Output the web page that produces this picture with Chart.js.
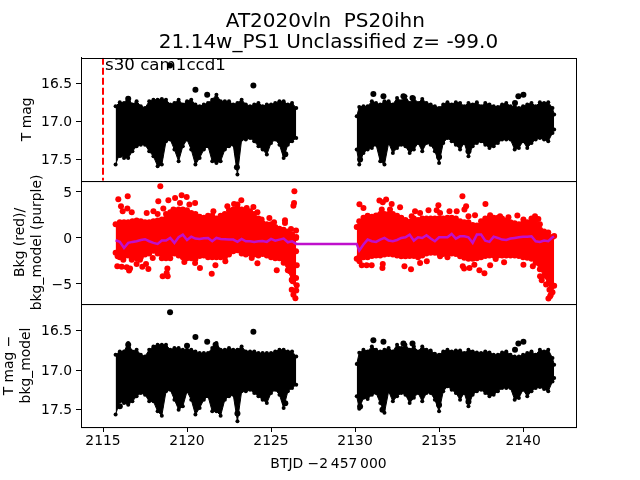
<!DOCTYPE html>
<html>
<head>
<meta charset="utf-8">
<style>
  html, body { margin: 0; padding: 0; background: #fff; }
  canvas { display: block; }
</style>
<script src="https://cdn.jsdelivr.net/npm/chart.js@4/dist/chart.umd.min.js"></script>
</head>
<body>
<canvas id="lightcurve" width="640" height="480"></canvas>
<script>
// Tick labels
const xTicks = [2115, 2120, 2125, 2130, 2135, 2140];
const magTicks = [16.5, 17.0, 17.5];
const bkgTicks = [5, 0, -5];

// Sampling of the two observing stretches (BTJD)
const timesA = [2115.75,2116,2116.25,2116.5,2116.75,2117,2117.25,2117.5,2117.75,2118,2118.25,2118.5,2118.75,2119,2119.25,2119.5,2119.75,2120,2120.25,2120.5,2120.75,2121,2121.25,2121.5,2121.75,2122,2122.25,2122.5,2122.75,2123,2123.25,2123.5,2123.75,2124,2124.25,2124.5,2124.75,2125,2125.25,2125.5,2125.75,2126,2126.25,2126.5];
const timesB = [2130.1,2130.25,2130.5,2130.75,2131,2131.25,2131.5,2131.75,2132,2132.25,2132.5,2132.75,2133,2133.25,2133.5,2133.75,2134,2134.25,2134.5,2134.75,2135,2135.25,2135.5,2135.75,2136,2136.25,2136.5,2136.75,2137,2137.25,2137.5,2137.75,2138,2138.25,2138.5,2138.75,2139,2139.25,2139.5,2139.75,2140,2140.25,2140.5,2140.75,2141,2141.25,2141.5,2141.75,2141.85];

// T mag, upper and lower edge of the dense band
const magTopA = [16.798,16.746,16.754,16.689,16.776,16.732,16.798,16.82,16.732,16.711,16.711,16.702,16.711,16.776,16.754,16.711,16.776,16.732,16.711,16.776,16.798,16.776,16.754,16.711,16.645,16.732,16.732,16.732,16.776,16.754,16.711,16.776,16.798,16.776,16.754,16.798,16.776,16.776,16.754,16.732,16.732,16.776,16.754,16.82];
const magLowA = [17.566,17.412,17.478,17.478,17.39,17.325,17.303,17.303,17.39,17.456,17.588,17.566,17.259,17.237,17.368,17.522,17.325,17.237,17.368,17.566,17.478,17.368,17.325,17.522,17.544,17.522,17.368,17.325,17.303,17.697,17.237,17.237,17.215,17.259,17.325,17.368,17.434,17.281,17.237,17.303,17.478,17.303,17.259,17.215];
const magTopB = [16.93,16.807,16.798,16.798,16.732,16.754,16.776,16.732,16.732,16.776,16.689,16.732,16.667,16.754,16.689,16.754,16.702,16.754,16.776,16.798,16.82,16.776,16.746,16.776,16.746,16.754,16.798,16.754,16.776,16.746,16.798,16.754,16.776,16.798,16.807,16.776,16.754,16.798,16.798,16.82,16.798,16.776,16.754,16.798,16.746,16.754,16.746,16.82,16.908];
const magLowB = [17.368,17.566,17.412,17.368,17.346,17.303,17.522,17.566,17.281,17.412,17.346,17.303,17.325,17.412,17.368,17.281,17.39,17.281,17.303,17.39,17.544,17.281,17.215,17.259,17.303,17.368,17.281,17.456,17.325,17.281,17.259,17.303,17.346,17.325,17.281,17.237,17.237,17.237,17.368,17.346,17.259,17.346,17.281,17.237,17.215,17.237,17.259,17.149,17.105];
const magDotsX = [2118.99,2120.5,2121.2,2123.95,2116.5,2131.09,2131.69,2132.88,2133.42,2139.72,2140.02,2139.52,2122.97,2122.97,2116.0,2118.4,2125.85,2130.3,2131.63,2135.0,2136.75];
const magDotsY = [16.26,16.58,16.645,16.526,16.7,16.636,16.667,16.667,16.69,16.667,16.645,16.754,17.41,17.6,17.44,17.47,17.43,17.5,17.48,17.465,17.39];

// Background flux: band edges, scattered points and the purple model
const bkgTopA = [1.5,1.7,1.7,1.7,1.8,1.9,1.8,1.7,1.7,1.8,1.9,2.0,2.6,2.8,3.0,3.1,3.1,3.0,2.7,2.6,2.3,2.2,2.4,2.4,2.1,2.4,2.6,3.0,3.1,3.25,3.1,3.0,2.9,2.6,2.1,1.6,1.5,1.5,1.2,1.0,0.9,0.7,0.4,0.1];
const bkgLowA = [-1.6,-2.1,-2.0,-1.9,-1.9,-2.2,-2.1,-1.8,-1.7,-1.4,-1.7,-2.2,-2.2,-2.2,-1.7,-1.9,-2.1,-2.2,-2.2,-2.3,-1.95,-1.9,-2.1,-2.1,-2.1,-2.1,-2.1,-1.8,-1.45,-1.35,-1.7,-1.8,-1.7,-1.8,-1.9,-1.75,-1.9,-2.1,-2.2,-2.2,-2.7,-3.5,-4.6,-5.7];
const bkgTopB = [1.2,1.8,2.2,2.4,2.3,2.45,2.6,2.6,2.6,2.6,2.4,2.2,1.95,1.75,2.1,1.95,2.1,2.1,2.1,2.1,2.1,2.1,2.2,2.2,2.1,1.8,1.7,1.7,1.4,1.35,1.8,2.1,2.2,2.2,2.2,2.1,1.9,1.7,1.6,1.5,1.6,1.7,2.1,1.95,1.5,0.7,0.6,0.1,0.2];
const bkgLowB = [-2.25,-2.1,-2.1,-2.1,-1.95,-1.9,-1.9,-1.8,-1.75,-1.8,-1.9,-2.0,-2.0,-1.95,-1.95,-2.1,-1.9,-1.7,-1.6,-1.6,-1.7,-1.75,-1.7,-1.7,-1.75,-2.0,-2.15,-2.25,-2.25,-2.2,-2.1,-1.95,-1.9,-1.9,-1.9,-1.9,-1.9,-1.9,-1.9,-1.95,-2.1,-2.15,-2.25,-2.7,-3.4,-4.1,-4.95,-5.9,-5.2];
const bkgDotsX = [2115.91,2116.47,2118.41,2116.07,2116.17,2116.45,2116.71,2118.29,2118.89,2119.29,2119.68,2119.98,2119.58,2120.14,2120.48,2117.6,2118,2118.25,2118.59,2119.19,2121.57,2122.4,2122.8,2123,2123.23,2123.55,2123.95,2124.19,2124.44,2124.9,2125.18,2125.83,2125.83,2126.19,2126.49,2126.37,2126.33,2126.39,2126.49,2126.49,2126.53,2126.49,2126.29,2126.53,2126.23,2126.33,2126.45,2115.85,2116.11,2116.41,2116.61,2116.55,2115.87,2116.21,2117.2,2117,2117.34,2117.56,2117.7,2117.96,2118.83,2118.79,2118.55,2118.85,2119.84,2120.48,2120.77,2121.47,2121.69,2122.28,2123.85,2124.19,2125.34,2126.13,2126.23,2116.9,2116.71,
  2130.26,2136.39,2131.85,2131.45,2131.65,2132.18,2132.68,2130.5,2134.96,2136.61,2136.51,2137.76,2131.59,2132.08,2134.37,2134.86,2135.62,2136.05,2133.57,2133.87,2137.14,2135.06,2136.75,2138.04,2138.63,2139.13,2139.66,2140.02,2140.71,2140.91,2133.37,2130.26,2130.4,2130.69,2130.99,2131.63,2131.65,2132.94,2133.33,2133.87,2134.27,2135.06,2135.5,2136.41,2136.49,2136.81,2137.1,2137.4,2137.7,2138.04,2138.37,2138.87,2140.02,2140.58,2141.01,2141.11,2141.51,2141.71,2141.57,2141.65,2141.51,2141.61,2141.37,2141.57,2141.25];
const bkgDotsY = [4.2,4.53,5.62,3.44,2.9,3.19,2.79,3.99,4.09,4.35,4.64,4.46,3.8,3.62,3.8,2.72,2.9,2.61,3.19,3.08,2.9,3.44,3.7,3.62,4.09,3.26,3.37,2.79,1.99,2.17,1.7,1.92,1.63,0.98,0.8,3.8,3.51,5.07,0,-1.45,-2.97,-4.35,-4.71,-5.14,-5.62,-6.16,-6.56,-3.08,-3.12,-3.19,-3.33,-3.55,-1.99,-2.36,-2.36,-2.83,-3.12,-2.83,-3.37,-2.17,-3.33,-3.8,-4.17,-4.17,-2.61,-2.72,-3.26,-3.88,-2.97,-2.54,-2.17,-2.75,-3.51,-3.62,-4.53,-1.81,-2.36,
  3.66,4.53,4.17,4.06,3.88,3.7,3.33,3.26,3.55,3.44,3.08,3.7,3.08,3.08,3.01,3.01,2.9,2.9,2.9,2.72,2.46,2.72,2.36,2.46,2.36,2.25,2.43,1.99,2.36,2.07,2.36,-2.54,-2.97,-2.97,-2.97,-3.26,-2.83,-3.08,-3.41,-2.72,-2.54,-1.99,-2.1,-3.08,-3.33,-3.26,-2.9,-3.51,-3.84,-2.97,-2.28,-2.64,-2.9,-3.08,-4.17,-4.6,-4.35,-5.25,-5.62,-6.16,-6.59,-6.34,-5.07,-3.62,-3.26];
const modelA = [-0.25,-0.43,-1.09,-0.54,-0.43,-0.36,-0.22,-0.14,-0.36,-0.54,-0.65,-0.29,-0.29,0,-0.54,0.07,0.36,-0.22,0.14,-0.07,-0.11,-0.04,0,-0.36,0,-0.11,-0.14,-0.18,-0.18,-0.43,-0.11,-0.36,-0.36,-0.43,-0.36,-0.33,-0.43,-0.11,-0.29,-0.18,-0.07,-0.47,-0.36,-0.65];
const modelB = [-0.65,-1.38,-0.72,-0.18,-0.36,-0.43,-0.18,0,-0.29,-0.36,-0.22,0,0.07,0.36,-0.29,0.07,0,0.29,-0.07,-0.36,0.07,0.07,0.07,0.43,-0.07,0.18,0.18,0.07,-0.54,0.36,0.36,-0.29,-0.43,0.14,0,-0.18,-0.22,-0.07,0,0.07,0.14,0.14,0.18,-0.36,-0.43,-0.29,-0.36,0.07,0.14];

// T mag minus background model
const subTopA = [16.804,16.762,16.762,16.656,16.762,16.741,16.804,16.825,16.741,16.698,16.677,16.677,16.677,16.741,16.719,16.719,16.741,16.741,16.741,16.762,16.783,16.783,16.783,16.719,16.656,16.741,16.741,16.719,16.741,16.741,16.698,16.762,16.762,16.762,16.783,16.783,16.783,16.783,16.762,16.741,16.741,16.762,16.762,16.825];
const subLowA = [17.563,17.395,17.416,17.437,17.395,17.331,17.289,17.31,17.395,17.395,17.521,17.576,17.268,17.247,17.373,17.5,17.458,17.268,17.373,17.563,17.479,17.373,17.331,17.521,17.521,17.576,17.373,17.331,17.31,17.648,17.268,17.268,17.247,17.289,17.331,17.373,17.416,17.289,17.247,17.31,17.479,17.268,17.226,17.184];
const subTopB = [16.92,16.78,16.741,16.762,16.698,16.741,16.762,16.741,16.719,16.762,16.677,16.719,16.677,16.741,16.698,16.762,16.698,16.741,16.75,16.79,16.804,16.762,16.741,16.762,16.75,16.75,16.783,16.741,16.762,16.775,16.783,16.762,16.775,16.804,16.804,16.775,16.762,16.804,16.825,16.825,16.804,16.783,16.762,16.804,16.741,16.762,16.741,16.846,16.93];
const subLowB = [17.331,17.49,17.35,17.365,17.31,17.289,17.416,17.54,17.268,17.395,17.331,17.289,17.31,17.416,17.35,17.289,17.395,17.289,17.289,17.373,17.521,17.268,17.205,17.247,17.289,17.373,17.289,17.458,17.31,17.268,17.247,17.289,17.331,17.31,17.268,17.226,17.226,17.226,17.373,17.352,17.247,17.331,17.268,17.226,17.213,17.238,17.268,17.142,17.099];
const subDotsX = [2118.99,2120.5,2121.2,2123.95,2116.5,2120.0,2121.7,2131.09,2131.69,2132.88,2133.42,2139.72,2140.02,2139.52,2116.0,2118.4,2123,2123,2124.6,2125.85,2130.3,2131.63,2135,2136.75];
const subDotsY = [16.264,16.58,16.64,16.513,16.677,16.69,16.677,16.62,16.64,16.66,16.66,16.66,16.64,16.74,17.458,17.47,17.37,17.55,17.35,17.42,17.46,17.5,17.44,17.4];

const candidateTime = [2115, 2115];

const FONT = '"DejaVu Sans", sans-serif';

function zip(xs, ys) {
    return xs.map((x, i) => ({ x: x, y: ys[i] }));
}

// Two edges of a band, filled between them
function bandDatasets(times, top, low, yAxisID, color, radius) {
    const common = { yAxisID, showLine: true, borderColor: color, borderWidth: 1, pointRadius: radius,
        pointBackgroundColor: color, pointBorderWidth: 0, tension: 0, order: 5 };
    return [
        { ...common, data: zip(times, top), fill: { target: '+1' }, backgroundColor: color },
        { ...common, data: zip(times, low), fill: false }
    ];
}

function dotDataset(xs, ys, yAxisID, color) {
    return { yAxisID, data: zip(xs, ys), showLine: false, pointRadius: 3, pointBorderWidth: 0,
        pointBackgroundColor: color, order: 4 };
}

function yScale(min, max, ticks, format, titleText, titlePad, reverse) {
    return {
        type: 'linear', stack: 'panels', stackWeight: 1, position: 'left',
        min, max, reverse,
        afterFit: scale => { scale.width = 81; },
        afterBuildTicks: scale => { scale.ticks = ticks.map(v => ({ value: v })); },
        grid: { drawOnChartArea: false, tickLength: 5, tickColor: '#000' },
        border: { color: '#000', width: 1 },
        ticks: { color: '#000', font: { family: FONT, size: 13.9 }, padding: 4, labelOffset: 1, autoSkip: false, callback: format },
        title: { display: true, text: titleText, color: '#000', font: { family: FONT, size: 13.9 }, padding: titlePad }
    };
}

// Frames round the panels and the sector label
const panelFrames = {
    id: 'panelFrames',
    afterDatasetsDraw(chart) {
        const { ctx, chartArea, scales } = chart;
        ctx.save();
        ctx.strokeStyle = '#000';
        ctx.lineWidth = 1;
        ['mag', 'bkg', 'sub'].forEach(id => {
            const s = scales[id];
            ctx.strokeRect(chartArea.left + 0.5, Math.round(s.top) + 0.5, chartArea.right - chartArea.left, s.bottom - s.top);
        });
        ctx.fillStyle = '#000';
        ctx.font = '16.67px ' + FONT;
        ctx.textBaseline = 'alphabetic';
        ctx.fillText('s30 cam1ccd1', scales.x.getPixelForValue(2115.12), scales.mag.getPixelForValue(16.316));
        ctx.restore();
    }
};

const magFormat = v => v.toFixed(1);
const bkgFormat = v => String(v).replace('-', '\u2212');

new Chart(document.getElementById('lightcurve').getContext('2d'), {
    type: 'scatter',
    plugins: [panelFrames],
    data: {
        datasets: [
            ...bandDatasets(timesA, magTopA, magLowA, 'mag', '#000', 2),
            ...bandDatasets(timesB, magTopB, magLowB, 'mag', '#000', 2),
            dotDataset(magDotsX, magDotsY, 'mag', '#000'),
            { yAxisID: 'mag', data: zip(candidateTime, [16.16, 17.78]), showLine: true, borderColor: '#f00',
              borderWidth: 2, borderDash: [7, 3], pointRadius: 0, order: 3 },
            ...bandDatasets(timesA, bkgTopA, bkgLowA, 'bkg', '#f00', 3),
            ...bandDatasets(timesB, bkgTopB, bkgLowB, 'bkg', '#f00', 3),
            dotDataset(bkgDotsX, bkgDotsY, 'bkg', '#f00'),
            { yAxisID: 'bkg', data: zip(timesA.concat(timesB), modelA.concat(modelB)), showLine: true,
              borderColor: '#bf10cc', borderWidth: 2.5, pointRadius: 0, tension: 0, order: 1 },
            ...bandDatasets(timesA, subTopA, subLowA, 'sub', '#000', 2),
            ...bandDatasets(timesB, subTopB, subLowB, 'sub', '#000', 2),
            dotDataset(subDotsX, subDotsY, 'sub', '#000')
        ]
    },
    options: {
        responsive: false,
        animation: false,
        layout: { padding: { top: 0, right: 64, bottom: 0, left: 0 } },
        plugins: {
            legend: { display: false },
            tooltip: { enabled: false },
            title: {
                display: true, fullSize: false, color: '#000',
                text: ['AT2020vln  PS20ihn ', '21.14w_PS1 Unclassified z= -99.0'],
                font: { family: FONT, size: 20, weight: 'normal', lineHeight: 1.07 },
                padding: { top: 11, bottom: 4 }
            }
        },
        scales: {
            x: {
                type: 'linear', position: 'bottom', min: 2113.69, max: 2143.15,
                afterFit: scale => { scale.height = 53; },
                afterBuildTicks: scale => { scale.ticks = xTicks.map(v => ({ value: v })); },
                grid: { drawOnChartArea: false, tickLength: 5, tickColor: '#000' },
                border: { color: '#000', width: 1 },
                ticks: { color: '#000', font: { family: FONT, size: 13.9 }, padding: 1, autoSkip: false, maxRotation: 0, callback: v => String(v) },
                title: { display: true, text: 'BTJD \u22122\u2009457\u2009000', color: '#000', font: { family: FONT, size: 13.9 }, padding: { top: 7, bottom: 7 } }
            },
            // chart.js stacks these bottom-up, so the lowest panel comes first
            sub: yScale(16.16, 17.72, magTicks, magFormat, ['T mag \u2212', 'bkg_model'], { top: 1, bottom: 0 }, true),
            bkg: yScale(-7.17, 6.2, bkgTicks, bkgFormat, ['Bkg (red)/', 'bkg_model (purple)'], { top: 12, bottom: 0 }, false),
            mag: yScale(16.16, 17.78, magTicks, magFormat, 'T mag', { top: 19, bottom: 0 }, true)
        }
    }
});
</script>
</body>
</html>
